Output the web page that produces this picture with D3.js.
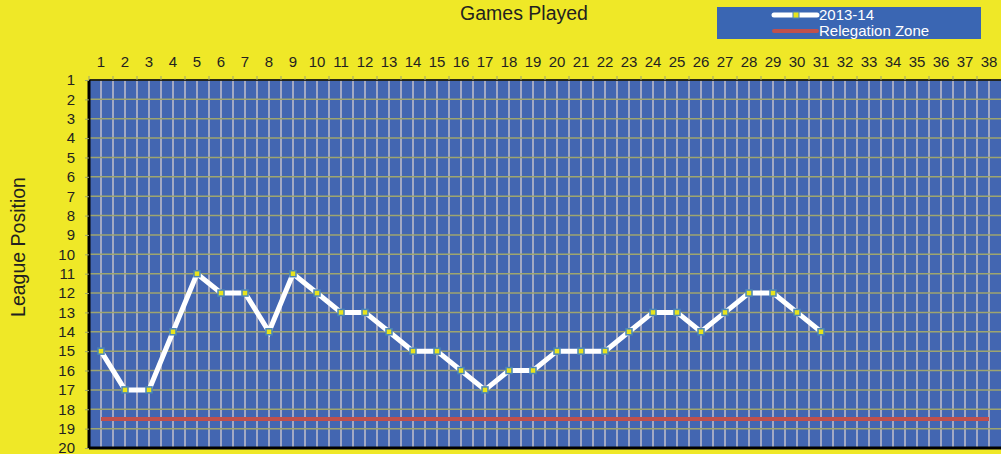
<!DOCTYPE html>
<html>
<head>
<meta charset="utf-8">
<script src="https://cdn.jsdelivr.net/npm/d3@7"></script>
<style>
  body { margin: 0; background: #efe827; }
  text { font-family: "Liberation Sans", Arial, sans-serif; fill: #231f20; }
</style>
</head>
<body>
<script>
// Data
var games = d3.range(1, 39);
var positions = [15, 17, 17, 14, 11, 12, 12, 14, 11, 12, 13, 13, 14, 15, 15, 16, 17, 16, 16, 15, 15, 15, 14, 13, 13, 14, 13, 12, 12, 13, 14];
var seriesName = "2013-14";
var relegationName = "Relegation Zone";
var relegationLevel = 18.5;
var yTicks = d3.range(1, 21);

var svgWidth = 1001, svgHeight = 454;
var margin = { top: 80, right: 0, bottom: 6, left: 89 };
var width = svgWidth - margin.left - margin.right;
var height = svgHeight - margin.top - margin.bottom;

var svg = d3.select("body").append("svg")
    .attr("width", svgWidth)
    .attr("height", svgHeight);

var chartGroup = svg.append("g")
    .attr("transform", `translate(${margin.left}, ${margin.top})`);

var xScale = d3.scaleBand().domain(games).range([0, width]).padding(0);
var yScale = d3.scaleLinear().domain([1, 20]).range([0, height]);
var bw = xScale.bandwidth();

// plot background
chartGroup.append("rect")
    .attr("width", width).attr("height", height)
    .attr("fill", "#4366b1");

// vertical grid (band edges + centres)
games.forEach(function (g) {
    [xScale(g), xScale(g) + bw / 2].forEach(function (x) {
        if (x === 0) return;
        chartGroup.append("line")
            .attr("x1", x).attr("x2", x)
            .attr("y1", 0).attr("y2", height)
            .attr("stroke", "#a3a9c4")
            .attr("stroke-width", 2);
    });
});

// horizontal grid
yTicks.forEach(function (t) {
    chartGroup.append("line")
        .attr("x1", 0).attr("x2", width)
        .attr("y1", yScale(t)).attr("y2", yScale(t))
        .attr("stroke", "#9ea56f")
        .attr("stroke-width", 1.5);
});

// relegation line
chartGroup.append("line")
    .attr("x1", xScale(1) + bw / 2)
    .attr("x2", xScale(38) + bw / 2)
    .attr("y1", yScale(relegationLevel))
    .attr("y2", yScale(relegationLevel))
    .attr("stroke", "#c0504d")
    .attr("stroke-width", 4);

// series line
var line = d3.line()
    .x((d, i) => xScale(games[i]) + bw / 2)
    .y(d => yScale(d));

chartGroup.append("path")
    .datum(positions)
    .attr("d", line)
    .attr("fill", "none")
    .attr("stroke", "#ffffff")
    .attr("stroke-width", 5);

chartGroup.selectAll(".marker")
    .data(positions)
    .enter()
    .append("rect")
    .attr("class", "marker")
    .attr("x", (d, i) => xScale(games[i]) + bw / 2 - 3)
    .attr("y", d => yScale(d) - 3)
    .attr("width", 6).attr("height", 6)
    .attr("fill", "#e8e41c")
    .attr("stroke", "#4a86b8")
    .attr("stroke-width", 1.5);

// border
chartGroup.append("line")
    .attr("x1", 0).attr("x2", width).attr("y1", 0).attr("y2", 0)
    .attr("stroke", "#000").attr("stroke-width", 1.5);
chartGroup.append("line")
    .attr("x1", 0).attr("x2", width).attr("y1", height).attr("y2", height)
    .attr("stroke", "#000").attr("stroke-width", 3);
chartGroup.append("line")
    .attr("x1", 0).attr("x2", 0).attr("y1", 0).attr("y2", height)
    .attr("stroke", "#000").attr("stroke-width", 3);

// top axis: labels at centres, ticks at band edges
var topAxis = d3.axisTop(xScale).tickSize(0).tickPadding(13);
var gx = chartGroup.append("g").call(topAxis);
gx.select(".domain").remove();
gx.selectAll("text").style("font-size", "15px").attr("fill", "#231f20");

games.forEach(function (g) {
    chartGroup.append("line")
        .attr("x1", xScale(g)).attr("x2", xScale(g))
        .attr("y1", -4).attr("y2", 0)
        .attr("stroke", "#9ea56f").attr("stroke-width", 1);
});

// left axis
var leftAxis = d3.axisLeft(yScale).tickValues(yTicks).tickSize(4).tickPadding(10).tickFormat(d3.format("d"));
var gy = chartGroup.append("g").call(leftAxis);
gy.select(".domain").remove();
gy.selectAll("line").attr("stroke", "#9ea56f");
gy.selectAll("text").style("font-size", "15px").attr("fill", "#231f20");

// titles
svg.append("text")
    .attr("x", 524).attr("y", 20)
    .attr("text-anchor", "middle")
    .style("font-size", "19.5px")
    .text("Games Played");

svg.append("text")
    .attr("transform", "rotate(-90)")
    .attr("x", -247).attr("y", 25)
    .attr("text-anchor", "middle")
    .style("font-size", "19.5px")
    .text("League Position");

// legend
var legend = svg.append("g").attr("transform", "translate(717, 7)");
legend.append("rect")
    .attr("width", 264).attr("height", 32)
    .attr("fill", "#3a66b3");

legend.append("line")
    .attr("x1", 57).attr("x2", 100).attr("y1", 8).attr("y2", 8)
    .attr("stroke", "#ffffff").attr("stroke-width", 5)
    .attr("stroke-linecap", "round");
legend.append("rect")
    .attr("x", 76).attr("y", 5).attr("width", 6).attr("height", 6)
    .attr("fill", "#e8e41c").attr("stroke", "#4a86b8").attr("stroke-width", 1);
legend.append("text")
    .attr("x", 102).attr("y", 13)
    .style("font-size", "15px").style("fill", "#ffffff")
    .text(seriesName);

legend.append("line")
    .attr("x1", 57).attr("x2", 100).attr("y1", 24).attr("y2", 24)
    .attr("stroke", "#c0504d").attr("stroke-width", 4)
    .attr("stroke-linecap", "round");
legend.append("text")
    .attr("x", 102).attr("y", 29)
    .style("font-size", "15px").style("fill", "#ffffff")
    .text(relegationName);
</script>
</body>
</html>
